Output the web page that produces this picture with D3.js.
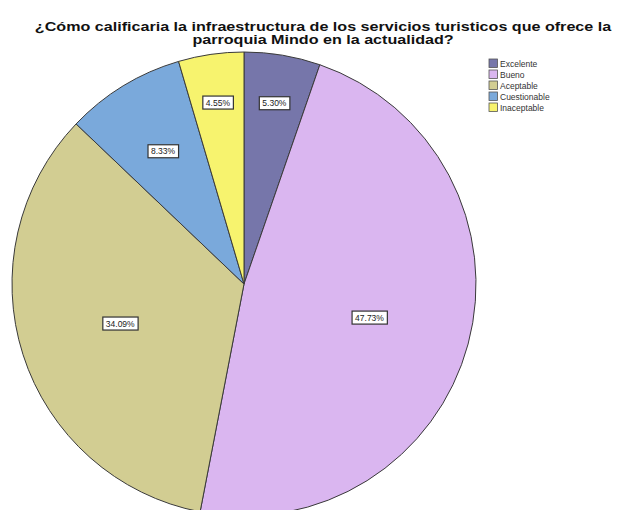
<!DOCTYPE html>
<html><head><meta charset="utf-8">
<script src="https://cdn.jsdelivr.net/npm/d3@7"></script>
<style>body{margin:0;background:#fff}svg{display:block}</style>
</head><body>
<svg id="c" width="623" height="510"></svg>
<script>
const categories = ["Excelente", "Bueno", "Aceptable", "Cuestionable", "Inaceptable"];
const percents = [5.30, 47.73, 34.09, 8.33, 4.55];
const colors = ["#7676aa", "#dab6f0", "#d2cd92", "#7aa9db", "#f7f36e"];
const titleLines = ["¿Cómo calificaria la infraestructura de los servicios turisticos que ofrece la", "parroquia Mindo en la actualidad?"];

const svg = d3.select("#c");
const cx = 244, cy = 284, R = 232;

// title (horizontally stretched like the reference)
const tg = svg.append("g").attr("transform", "translate(323,0) scale(1.29,1)");
titleLines.forEach((t, i) => tg.append("text").attr("text-anchor", "middle")
  .attr("x", 0).attr("y", 31 + i * 13.5)
  .attr("font-family", "Liberation Sans, Arial, sans-serif").attr("font-weight", "bold")
  .attr("font-size", 12.5).attr("fill", "#111").text(t));

const data = categories.map((c, i) => ({ cat: c, value: percents[i], color: colors[i] }));
const pie = d3.pie().value(d => d.value).sort(null);
const arcs = pie(data);
const arc = d3.arc().innerRadius(0).outerRadius(R);
const g = svg.append("g").attr("transform", `translate(${cx},${cy})`);
g.selectAll("path").data(arcs).join("path")
  .attr("d", arc).attr("fill", d => d.data.color)
  .attr("stroke", "#3a3a3a").attr("stroke-width", 1);

// label radius fraction depends on slice size
const labelFrac = v => v < 6 ? 0.79 : (v < 10 ? 0.67 : 0.56);
const fmt = v => v.toFixed(2) + "%";
arcs.forEach(a => {
  const f = labelFrac(a.data.value);
  const la = d3.arc().innerRadius(R * f).outerRadius(R * f);
  const [x, y] = la.centroid(a);
  const lg = g.append("g").attr("transform", `translate(${x},${y})`);
  const t = lg.append("text").attr("text-anchor", "middle").attr("dy", "0.35em")
    .attr("font-family", "Liberation Sans, Arial, sans-serif").attr("font-size", 8.5)
    .attr("fill", "#222").text(fmt(a.data.value));
  const bb = t.node().getBBox();
  lg.insert("rect", "text").attr("x", bb.x - 3).attr("y", bb.y - 1.5)
    .attr("width", bb.width + 6).attr("height", bb.height + 3)
    .attr("fill", "#fff").attr("stroke", "#333").attr("stroke-width", 1.2);
});

// legend
const leg = svg.append("g").attr("transform", "translate(489,58)");
const ly = d3.scaleBand().domain(categories).range([0, 55]);
categories.forEach((c, i) => {
  leg.append("rect").attr("x", 0).attr("y", ly(c) + 1).attr("width", 8.5).attr("height", 8.5)
    .attr("fill", colors[i]).attr("stroke", "#555").attr("stroke-width", 0.8);
  leg.append("text").attr("x", 11).attr("y", ly(c) + 8.5)
    .attr("font-family", "Liberation Sans, Arial, sans-serif").attr("font-size", 8.5)
    .attr("fill", "#333").text(c);
});
</script>
</body></html>
